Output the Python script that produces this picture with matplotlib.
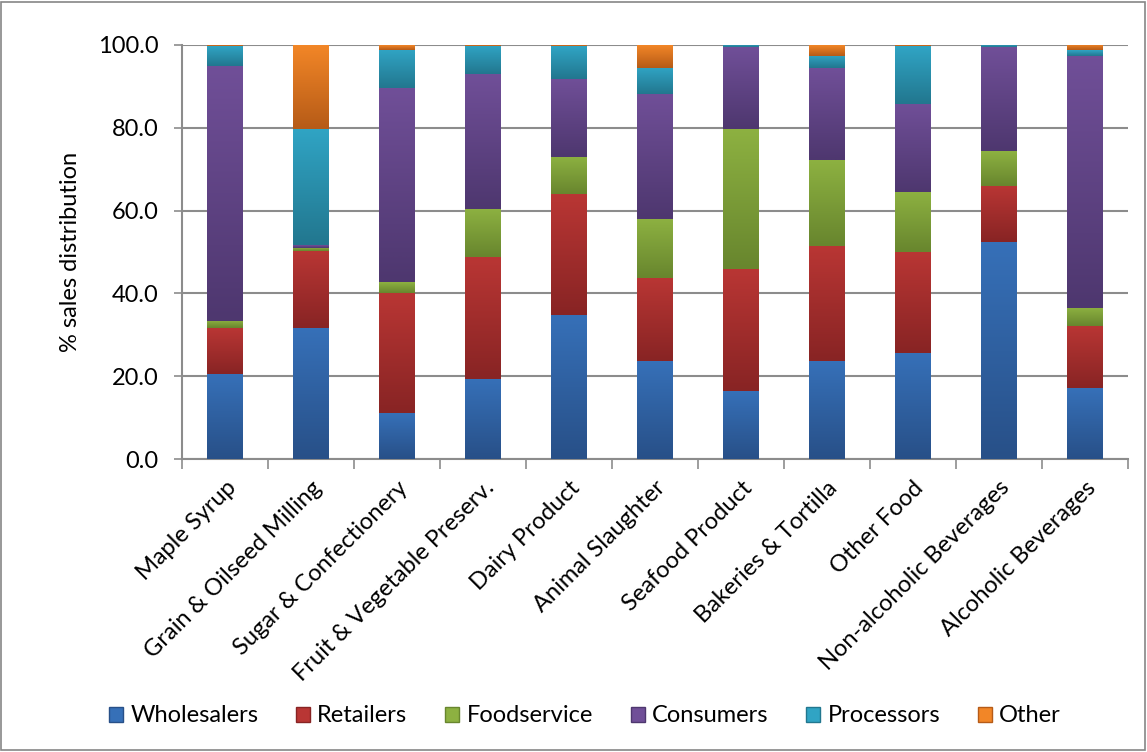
import numpy as np
import matplotlib
matplotlib.use("Agg")
import matplotlib.pyplot as plt
from matplotlib.colors import LinearSegmentedColormap
from matplotlib.patches import Rectangle, Patch

plt.rcParams['font.family'] = ['Lato', 'DejaVu Sans']

categories = ["Maple Syrup", "Grain & Oilseed Milling", "Sugar & Confectionery",
              "Fruit & Vegetable Preserv.", "Dairy Product", "Animal Slaughter",
              "Seafood Product", "Bakeries & Tortilla", "Other Food",
              "Non-alcoholic Beverages", "Alcoholic Beverages"]

wholesalers = [20.5, 31.6, 11.0, 19.4, 34.8, 23.6, 16.4, 23.6, 25.6, 52.4, 17.1]
retailers   = [11.1, 18.6, 29.1, 29.4, 29.2, 20.1, 29.5, 27.9, 24.4, 13.6, 15.0]
foodservice = [1.7, 0.8, 2.6, 11.6, 9.0, 14.3, 33.9, 20.8, 14.5, 8.4, 4.4]
consumers   = [61.7, 0.7, 47.0, 32.5, 18.9, 30.2, 19.6, 22.2, 21.3, 25.0, 60.8]
processors  = [4.7, 28.1, 9.2, 6.8, 7.8, 6.3, 0.6, 2.9, 13.9, 0.6, 1.4]
other       = [0.3, 20.2, 1.1, 0.3, 0.3, 5.5, 0.0, 2.6, 0.3, 0.0, 1.3]

series = ["Wholesalers", "Retailers", "Foodservice", "Consumers", "Processors", "Other"]
values = [wholesalers, retailers, foodservice, consumers, processors, other]

# (bottom shade, top shade) for each series
shades = [("#285088", "#3670b8"),
          ("#882424", "#b93634"),
          ("#68862e", "#8db141"),
          ("#4e376f", "#704f98"),
          ("#22778f", "#30a4c4"),
          ("#b65b17", "#f28627")]

FS = 17

fig = plt.figure(figsize=(11.47, 7.52), dpi=100)
ax = fig.add_axes([0.1587, 0.3896, 0.8247, 0.5506])

x = np.arange(len(categories))
width = 0.41
grad = np.linspace(0, 1, 64).reshape(-1, 1)

bottom = np.zeros(len(categories))
for name, vals, (lo, hi) in zip(series, values, shades):
    cmap = LinearSegmentedColormap.from_list(name, [lo, hi])
    vals = np.array(vals)
    for xi, b, v in zip(x, bottom, vals):
        if v <= 0:
            continue
        ax.imshow(grad, cmap=cmap, origin="lower", aspect="auto",
                  extent=[xi - width / 2, xi + width / 2, b, b + v],
                  zorder=3, interpolation="bilinear")
    bottom += vals

ax.set_xlim(-0.5, len(categories) - 0.5)
ax.set_ylim(0, 100)

ax.set_yticks(np.arange(0, 101, 20))
ax.set_yticklabels([f"{v:.1f}" for v in np.arange(0, 101, 20)])
ax.yaxis.grid(True, color="#8c8c8c", linewidth=1.5, zorder=0)
ax.set_axisbelow(True)

ax.set_xticks(x)
ax.set_xticklabels(categories, rotation=45, ha="right", va="top",
                   rotation_mode="anchor")
ax.set_xticks(np.arange(-0.5, len(categories), 1), minor=True)
ax.tick_params(axis="x", which="major", length=0, pad=13, labelsize=FS)
ax.tick_params(axis="x", which="minor", length=7, width=1.2, color="#8c8c8c")
ax.tick_params(axis="y", length=6, width=1.2, color="#8c8c8c", labelsize=FS, pad=11)

for side in ["top", "right"]:
    ax.spines[side].set_visible(False)
for side in ["left", "bottom"]:
    ax.spines[side].set_color("#8c8c8c")
    ax.spines[side].set_linewidth(1.5)

ax.set_ylabel("% sales distribution", fontsize=FS, labelpad=12)

handles = [Patch(facecolor=hi, edgecolor=lo) for lo, hi in shades]
fig.legend(handles, series, loc="center", bbox_to_anchor=(0.51, 0.048),
           ncol=6, frameon=False, fontsize=FS, handlelength=0.6,
           handleheight=0.6, handletextpad=0.3, columnspacing=1.6)

fig.patches.append(Rectangle((0.001, 0.002), 0.997, 0.996, transform=fig.transFigure,
                             fill=False, edgecolor="#868686", linewidth=1.2))

fig.savefig("out.png", dpi=100)
